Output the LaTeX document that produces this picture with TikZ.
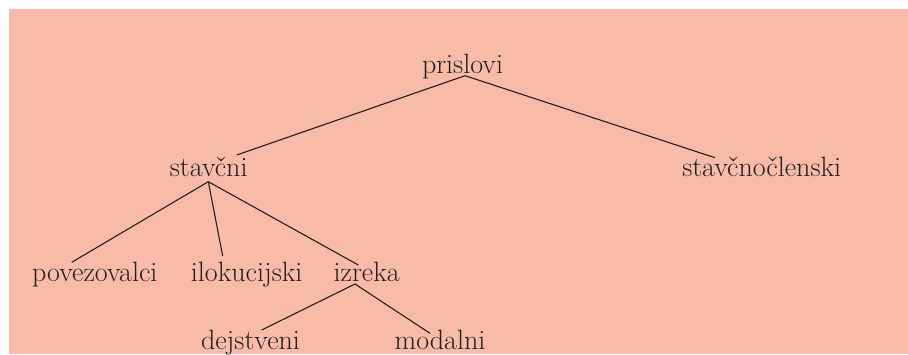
\documentclass[tikz,border=0pt]{standalone}
\definecolor{bgsalmon}{HTML}{F7BBA7}
\definecolor{inkdark}{HTML}{231F20}
\begin{document}
\begin{tikzpicture}[x=1pt,y=-1pt,
  word/.style={anchor=base,inner sep=0pt,text=inkdark,font=\fontsize{28}{32}\selectfont},
  branch/.style={draw=inkdark,line width=1.1pt}]
\useasboundingbox (0,0) rectangle (908,354);
\fill[bgsalmon] (9,9) rectangle (908,354);
\node[word] (pris) at (462.5,73.5) {prislovi};
\node[word] (stav) at (208.7,176.7) {stavčni};
\node[word] (stcl) at (761.7,176) {stavčnočlenski};
\node[word] (pov) at (94.8,281.7) {povezovalci};
\node[word] (ilo) at (246.7,281.7) {ilokucijski};
\node[word] (izr) at (366.7,281.7) {izreka};
\node[word] (dej) at (250.5,349.3) {dejstveni};
\node[word] (mod) at (440,349.3) {modalni};
\draw[branch] ([shift={(28,-21.7)}]stav.base) -- ([shift={(2.5,2.2)}]pris.base) -- ([shift={(-46.7,-18.3)}]stcl.base);
\draw[branch] ([shift={(-23.1,-19.4)}]pov.base) -- ([shift={(-0.4,5)}]stav.base);
\draw[branch] ([shift={(-24,-25.7)}]ilo.base) -- ([shift={(-0.4,5)}]stav.base);
\draw[branch] ([shift={(-8.4,-16.7)}]izr.base) -- ([shift={(-0.4,5)}]stav.base);
\draw[branch] ([shift={(11.2,-19.3)}]dej.base) -- ([shift={(-11.7,2.3)}]izr.base) -- ([shift={(-10,-16)}]mod.base);
\end{tikzpicture}
\end{document}
